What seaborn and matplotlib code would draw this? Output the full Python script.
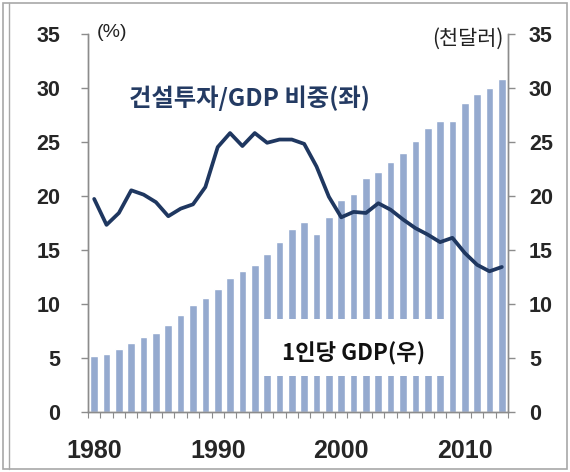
import numpy as np
import pandas as pd
import matplotlib
matplotlib.use("Agg")
import matplotlib.pyplot as plt
from matplotlib.patches import Rectangle
from matplotlib.lines import Line2D
import seaborn as sns

# 연도별 자료
years = list(range(1980, 2014))
gdp_per_capita = [5.2, 5.3, 5.8, 6.4, 6.9, 7.3, 8.0, 9.0, 9.9, 10.5,
                  11.4, 12.4, 13.0, 13.6, 14.6, 15.7, 16.9, 17.6, 16.5, 18.0,
                  19.6, 20.2, 21.6, 22.2, 23.1, 24.0, 25.1, 26.3, 26.9, 26.9,
                  28.6, 29.4, 30.0, 30.8]
construction_share = [19.7, 17.3, 18.4, 20.5, 20.1, 19.4, 18.1, 18.8, 19.2, 20.8,
                      24.5, 25.8, 24.6, 25.8, 24.9, 25.2, 25.2, 24.8, 22.7, 19.9,
                      18.0, 18.5, 18.4, 19.3, 18.7, 17.8, 17.0, 16.4, 15.7, 16.1,
                      14.7, 13.6, 13.0, 13.4]
year_labels = ["1980", "1990", "2000", "2010"]
y_ticks = [0, 5, 10, 15, 20, 25, 30, 35]

df = pd.DataFrame({"연도": years, "1인당 GDP": gdp_per_capita,
                   "건설투자 비중": construction_share})
df["pos"] = np.arange(len(df))

sns.set_theme(style="white")
plt.rcParams["font.family"] = ["Liberation Sans", "Noto Sans CJK KR", "DejaVu Sans"]

fig = plt.figure(figsize=(5.70, 4.72), dpi=100)
ax = fig.add_axes([88 / 570, 1 - 411.7 / 472, 420 / 570, 378 / 472])
ax2 = ax.twinx()

bar_color = "#95AACF"
line_color = "#1F3760"
spine_color = "#8C8C8C"
kr = ["Noto Sans CJK KR", "DejaVu Sans"]

# 1인당 GDP 막대 (우축)
sns.barplot(data=df, x="pos", y="1인당 GDP", color=bar_color, width=0.62,
            saturation=1, native_scale=True, ax=ax2, zorder=2)

# 범례 대신 쓰는 흰 상자와 설명
ax2.add_patch(Rectangle((13.5, 3.3), 15.0, 5.3, facecolor="white",
                        edgecolor="none", zorder=3))
ax2.text(21.0, 5.4, "1인당 GDP(우)", ha="center", va="center", fontsize=16,
         fontweight="bold", color="#111111", zorder=4, family=kr)

# 건설투자/GDP 비중 선 (좌축)
sns.lineplot(data=df, x="pos", y="건설투자 비중", color=line_color,
             linewidth=2.7, ax=ax, zorder=5)
for l in ax.lines:
    l.set_solid_joinstyle("round")
    l.set_solid_capstyle("round")
ax.text(12.6, 29.0, "건설투자/GDP 비중(좌)", ha="center", va="center",
        fontsize=17.5, fontweight="bold", color="#243B63", family=kr)

ax.set_zorder(ax2.get_zorder() + 1)
ax.patch.set_visible(False)

for a in (ax, ax2):
    a.set_xlim(-0.5, len(years) - 0.5)
    a.set_ylim(0, 35)
    a.set_yticks(y_ticks)
    a.set_xlabel("")
    a.set_ylabel("")
    a.spines["top"].set_visible(False)
    for s in ("left", "right", "bottom"):
        a.spines[s].set_color(spine_color)
        a.spines[s].set_linewidth(1.0)

ax.set_yticklabels([str(v) for v in y_ticks], fontsize=15.5, fontweight="bold")
ax2.set_yticklabels([str(v) for v in y_ticks], fontsize=15.5, fontweight="bold")
ax.tick_params(axis="y", which="major", direction="out", length=5, width=1,
               color=spine_color, pad=15, left=True)
ax2.tick_params(axis="y", which="major", direction="out", length=5, width=1,
                color=spine_color, pad=10, right=True)

# x축: 막대 경계에 눈금, 10년마다 연도 표시
label_pos = [years.index(int(y)) for y in year_labels]
ax.set_xticks(label_pos)
ax.set_xticklabels(year_labels, fontsize=18, fontweight="bold")
ax.set_xticks(np.arange(-0.5, len(years)), minor=True)
ax.tick_params(axis="x", which="major", length=0, pad=20, bottom=True)
ax.tick_params(axis="x", which="minor", direction="out", length=4, width=0.8,
               color=spine_color, bottom=True)
ax2.tick_params(axis="x", which="both", length=0, labelbottom=False)

ax.text(0.2, 35.1, "(%)", ha="left", va="center", fontsize=14, color="#222222")
ax2.text(33.1, 34.5, "(천달러)", ha="right", va="center", fontsize=15,
         color="#222222", family=kr)

# 바깥 테두리
fig.add_artist(Rectangle((3 / 570, 3 / 472), 564 / 570, 466 / 472,
                         transform=fig.transFigure, fill=False,
                         edgecolor="#A8A8A8", linewidth=1.2))
fig.add_artist(Line2D([9 / 570, 9 / 570], [3 / 472, 469 / 472],
                      transform=fig.transFigure, color="#A8A8A8", linewidth=1.0))

fig.savefig("out.png", dpi=100)
